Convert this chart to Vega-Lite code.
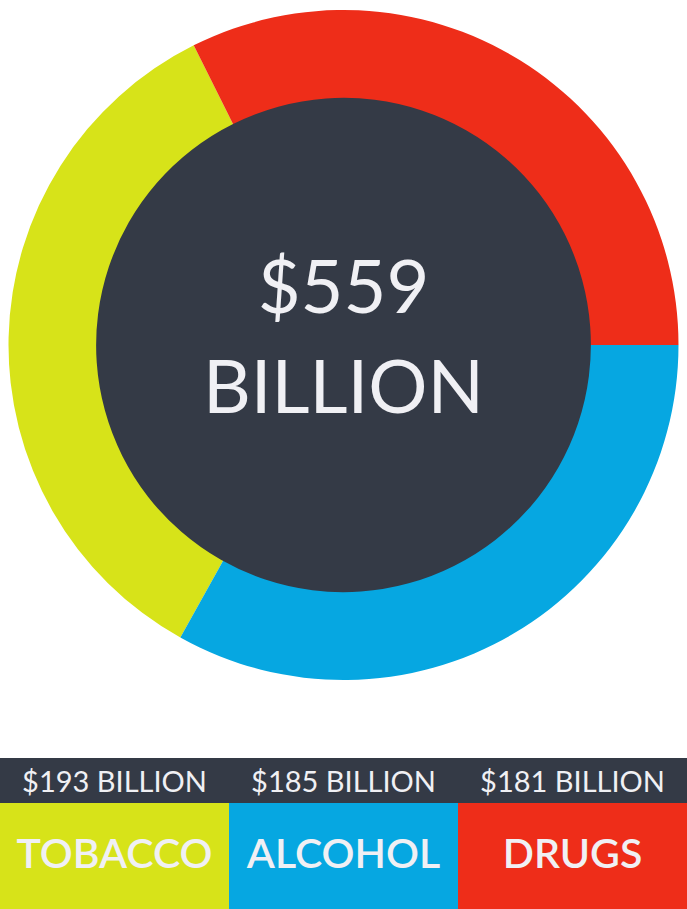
{
  "$schema": "https://vega.github.io/schema/vega-lite/v6.json",
  "padding": 0,
  "spacing": 68,
  "background": "#ffffff",
  "config": {"view": {"stroke": null}, "font": "Lato"},
  "datasets": {
    "items": [
      {"category": "TOBACCO", "amount": "$193 BILLION", "value": 193},
      {"category": "ALCOHOL", "amount": "$185 BILLION", "value": 185},
      {"category": "DRUGS", "amount": "$181 BILLION", "value": 181}
    ],
    "total": [
      {"label": "$559\nBILLION", "total": 559}
    ]
  },
  "vconcat": [
    {
      "width": 687,
      "height": 690,
      "layer": [
        {
          "data": {"name": "items"},
          "mark": {"type": "arc", "radius": 335, "innerRadius": 246},
          "encoding": {
            "theta": {"field": "value", "type": "quantitative", "stack": true, "scale": {"range": [-0.4636, 5.8196]}},
            "order": {"field": "value", "sort": "ascending"},
            "color": {
              "field": "category", "type": "nominal", "legend": null,
              "scale": {"domain": ["TOBACCO", "ALCOHOL", "DRUGS"], "range": ["#d7e319", "#06a7e1", "#ee2d19"]}
            }
          }
        },
        {
          "data": {"name": "total"},
          "mark": {"type": "arc", "radius": 247, "color": "#343a46"},
          "encoding": {
            "theta": {"field": "total", "type": "quantitative"}
          }
        },
        {
          "data": {"name": "total"},
          "mark": {"type": "text", "lineBreak": "\n", "lineHeight": 100, "fontSize": 74, "baseline": "alphabetic", "align": "center", "dy": -32, "color": "#f0f0f4"},
          "encoding": {
            "text": {"field": "label", "type": "nominal"}
          }
        }
      ]
    },
    {
      "spacing": 0,
      "vconcat": [
        {
          "width": 687,
          "height": 45,
          "view": {"fill": "#343a46"},
          "data": {"name": "items"},
          "mark": {"type": "text", "fontSize": 29, "baseline": "middle", "color": "#f0f0f4", "dy": 2},
          "encoding": {
            "x": {"field": "category", "type": "nominal", "axis": null, "sort": ["TOBACCO", "ALCOHOL", "DRUGS"], "scale": {"paddingInner": 0, "paddingOuter": 0}},
            "text": {"field": "amount", "type": "nominal"}
          }
        },
        {
          "width": 687,
          "height": 106,
          "data": {"name": "items"},
          "encoding": {
            "x": {"field": "category", "type": "nominal", "axis": null, "sort": ["TOBACCO", "ALCOHOL", "DRUGS"], "scale": {"paddingInner": 0, "paddingOuter": 0}}
          },
          "layer": [
            {
              "mark": {"type": "bar"},
              "encoding": {
                "color": {
                  "field": "category", "type": "nominal", "legend": null,
                  "scale": {"domain": ["TOBACCO", "ALCOHOL", "DRUGS"], "range": ["#d7e319", "#06a7e1", "#ee2d19"]}
                }
              }
            },
            {
              "mark": {"type": "text", "fontSize": 41, "fontWeight": 600, "baseline": "middle", "color": "#f0f0f4", "dy": 0},
              "encoding": {
                "text": {"field": "category", "type": "nominal"}
              }
            }
          ]
        }
      ]
    }
  ]
}
